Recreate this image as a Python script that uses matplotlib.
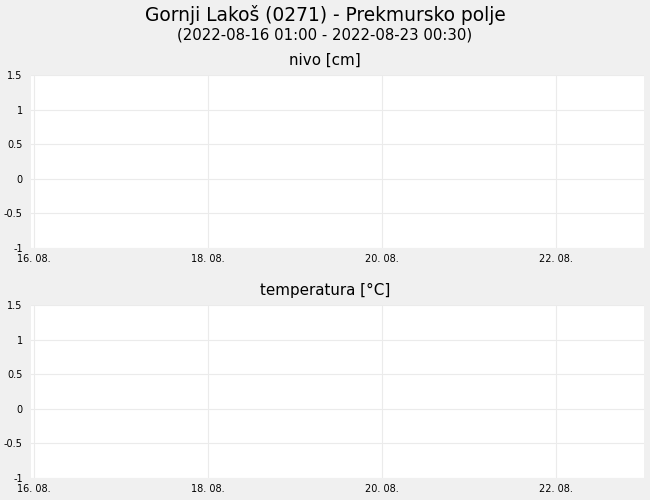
import matplotlib
matplotlib.use("Agg")
import matplotlib.pyplot as plt
import matplotlib.dates as mdates
from matplotlib.ticker import FuncFormatter
from datetime import datetime, timedelta

plt.rcParams["font.family"] = ["DejaVu Sans"]
plt.rcParams["axes.unicode_minus"] = False

station = "Gornji Lakoš (0271) - Prekmursko polje"
period = "(2022-08-16 01:00 - 2022-08-23 00:30)"
panel_titles = ["nivo [cm]", "temperatura [°C]"]

# no measurements in this period
times = []
nivo = []
temperatura = []

y_ticks = [-1, -0.5, 0, 0.5, 1, 1.5]
x_ticks = [datetime(2022, 8, 16), datetime(2022, 8, 18),
           datetime(2022, 8, 20), datetime(2022, 8, 22)]
x_start = datetime(2022, 8, 16) - timedelta(hours=0.85)
x_end = datetime(2022, 8, 23, 0, 15)

bg = "#f0f0f0"
grid_col = "#ebebeb"

fig = plt.figure(figsize=(6.5, 5), dpi=100, facecolor=bg)
fig.text(0.5, 1 - 15 / 500, station, ha="center", va="center", fontsize=13.4)
fig.text(0.5, 1 - 35 / 500, period, ha="center", va="center", fontsize=10.7)

panels = [(75, 248), (305, 478)]
series = [nivo, temperatura]
for (top, bottom), title, vals in zip(panels, panel_titles, series):
    ax = fig.add_axes([31 / 650, 1 - bottom / 500, (644 - 31) / 650, (bottom - top) / 500])
    ax.set_facecolor("white")
    ax.plot(times, vals, color="#1f77b4")
    ax.set_xlim(x_start, x_end)
    ax.set_ylim(-1, 1.5)
    ax.set_yticks(y_ticks)
    ax.yaxis.set_major_formatter(FuncFormatter(lambda v, p: f"{v:g}"))
    ax.set_xticks(x_ticks)
    ax.xaxis.set_major_formatter(mdates.DateFormatter("%d. %m."))
    ax.tick_params(length=0, labelsize=7, pad=6)
    ax.tick_params(axis="x", pad=4)
    for lab in ax.get_yticklabels():
        lab.set_va("center_baseline")
    ax.grid(True, color=grid_col, linewidth=0.8)
    ax.set_axisbelow(True)
    for s in ax.spines.values():
        s.set_visible(False)
    fig.text(0.5, 1 - (top - 15) / 500, title, ha="center", va="center", fontsize=10.9)

plt.savefig("out.png", dpi=100, facecolor=fig.get_facecolor())
plt.close()
